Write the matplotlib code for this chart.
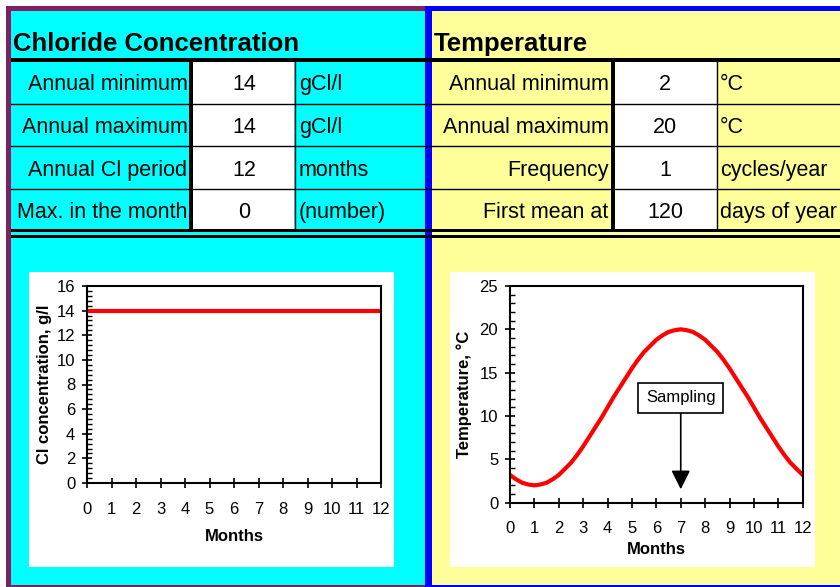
import matplotlib
matplotlib.use('Agg')
import matplotlib.pyplot as plt
from matplotlib.patches import Rectangle
from matplotlib.ticker import MultipleLocator

plt.rcParams['font.family'] = ['Liberation Sans', 'DejaVu Sans']

# Table contents
cl_title = 'Chloride Concentration'
cl_labels = ['Annual minimum', 'Annual maximum', 'Annual Cl period', 'Max. in the month']
cl_values = ['14', '14', '12', '0']
cl_units = ['gCl/l', 'gCl/l', 'months', '(number)']

temp_title = 'Temperature'
temp_labels = ['Annual minimum', 'Annual maximum', 'Frequency', 'First mean at']
temp_values = ['2', '20', '1', '120']
temp_units = ['°C', '°C', 'cycles/year', 'days of year']

# Chart data
month_ticks = [0, 1, 2, 3, 4, 5, 6, 7, 8, 9, 10, 11, 12]
cl_months = [0, 1, 2, 3, 4, 5, 6, 7, 8, 9, 10, 11, 12]
cl_conc = [14, 14, 14, 14, 14, 14, 14, 14, 14, 14, 14, 14, 14]

temp_months = [0, 0.25, 0.5, 0.75, 1, 1.25, 1.5, 1.75, 2, 2.25, 2.5, 2.75,
               3, 3.25, 3.5, 3.75, 4, 4.25, 4.5, 4.75, 5, 5.25, 5.5, 5.75,
               6, 6.25, 6.5, 6.75, 7, 7.25, 7.5, 7.75, 8, 8.25, 8.5, 8.75,
               9, 9.25, 9.5, 9.75, 10, 10.25, 10.5, 10.75, 11, 11.25, 11.5, 11.75, 12]
temp_vals = [3.2, 2.7, 2.3, 2.1, 2.0, 2.1, 2.3, 2.7, 3.2, 3.9, 4.6, 5.5,
             6.5, 7.6, 8.7, 9.8, 11.0, 12.2, 13.3, 14.4, 15.5, 16.5, 17.4, 18.1,
             18.8, 19.3, 19.7, 19.9, 20.0, 19.9, 19.7, 19.3, 18.8, 18.1, 17.4, 16.5,
             15.5, 14.4, 13.3, 12.2, 11.0, 9.8, 8.7, 7.6, 6.5, 5.5, 4.6, 3.9, 3.2]
sampling_month = 7

# Colours
PURPLE = '#80205F'
CYAN = '#00FFFF'
BLUE = '#0000FF'
YELLOW = '#FFFF99'

W, H = 840, 587
fig = plt.figure(figsize=(W / 100, H / 100), dpi=100)
fig.patch.set_facecolor('white')

# background axes in pixel coordinates (y down)
bg = fig.add_axes([0, 0, 1, 1])
bg.set_xlim(0, W)
bg.set_ylim(H, 0)
bg.axis('off')


def box(x0, y0, x1, y1, color):
    bg.add_patch(Rectangle((x0, y0), x1 - x0, y1 - y0, facecolor=color,
                           edgecolor='none', lw=0))


# panels and borders
box(6, 6, 425, 587, PURPLE)
box(11, 11, 425, 585, CYAN)
box(425, 6, 840, 587, BLUE)
box(432, 11, 840, 585, YELLOW)

# chart areas
box(29, 272, 394, 567, 'white')
box(450, 272, 815, 567, 'white')

# value cells
box(193, 62, 294, 229, 'white')
box(615, 62, 716, 229, 'white')

# grid lines of the sheet
box(11, 58, 840, 62, 'black')
for y in [103.5, 146, 189.3]:
    bg.plot([11, 840], [y, y], color='black', lw=1.0)
box(189, 62, 193, 229, 'black')
box(611, 62, 615, 229, 'black')
bg.plot([294.5, 294.5], [62, 229], color='black', lw=1.0)
bg.plot([716.5, 716.5], [62, 229], color='black', lw=1.0)
box(11, 229, 840, 232, 'black')
box(11, 234.5, 840, 237.5, 'black')

# headings
bg.text(13, 50.7, cl_title, fontsize=18.5, fontweight='bold', va='baseline', ha='left')
bg.text(434, 50.7, temp_title, fontsize=18.5, fontweight='bold', va='baseline', ha='left')

baselines = [90, 132.7, 175.7, 218.3]
for i, yb in enumerate(baselines):
    bg.text(187.5, yb, cl_labels[i], fontsize=15.5, ha='right', va='baseline')
    bg.text(244, yb, cl_values[i], fontsize=15.5, ha='center', va='baseline')
    bg.text(299, yb, cl_units[i], fontsize=15.5, ha='left', va='baseline')
    bg.text(608.5, yb, temp_labels[i], fontsize=15.5, ha='right', va='baseline')
    bg.text(665, yb, temp_values[i], fontsize=15.5, ha='center', va='baseline')
    bg.text(720, yb, temp_units[i], fontsize=15.5, ha='left', va='baseline')


def px_axes(x0, y0, x1, y1):
    return fig.add_axes([x0 / W, (H - y1) / H, (x1 - x0) / W, (y1 - y0) / H])


def style(ax):
    for s in ax.spines.values():
        s.set_linewidth(1.5)
        s.set_color('black')
    ax.tick_params(which='major', direction='inout', length=7, width=1.2,
                   labelsize=12, color='black')
    ax.tick_params(axis='x', which='major', pad=10)
    ax.tick_params(axis='y', which='major', pad=5)
    ax.tick_params(axis='y', which='minor', direction='in', length=3.5, width=1.0)
    ax.xaxis.set_minor_locator(plt.NullLocator())
    ax.set_xticks(month_ticks)
    ax.set_xlim(0, 12)


# Chloride chart
ax1 = px_axes(87, 286, 381, 483)
ax1.plot(cl_months, cl_conc, color='#FF0000', lw=3)
style(ax1)
ax1.set_ylim(0, 16)
ax1.yaxis.set_major_locator(MultipleLocator(2))
ax1.yaxis.set_minor_locator(MultipleLocator(0.4))
ax1.set_ylabel('Cl concentration, g/l', fontsize=12, fontweight='bold')
ax1.yaxis.set_label_coords(-0.119, 0.5)
ax1.set_xlabel('Months', fontsize=12, fontweight='bold')
ax1.xaxis.set_label_coords(0.5, -0.235)

# Temperature chart
ax2 = px_axes(510, 286, 802.7, 502.7)
ax2.plot(temp_months, temp_vals, color='#FF0000', lw=3, solid_joinstyle='round')
style(ax2)
ax2.set_ylim(0, 25)
ax2.yaxis.set_major_locator(MultipleLocator(5))
ax2.yaxis.set_minor_locator(MultipleLocator(1))
ax2.set_ylabel('Temperature, °C', fontsize=12, fontweight='bold')
ax2.yaxis.set_label_coords(-0.13, 0.5)
ax2.set_xlabel('Months', fontsize=12, fontweight='bold')
ax2.xaxis.set_label_coords(0.5, -0.18)

ax2.annotate('Sampling', xy=(sampling_month, 1.55), xytext=(sampling_month, 12.1),
             ha='center', va='center', fontsize=12,
             bbox=dict(boxstyle='square,pad=0.45', facecolor='white',
                       edgecolor='black', lw=1.2),
             arrowprops=dict(arrowstyle='-|>,head_length=0.8,head_width=0.4',
                             mutation_scale=14.4, color='black', lw=1.2,
                             shrinkA=0, shrinkB=0))

fig.savefig('out.png', dpi=100)
